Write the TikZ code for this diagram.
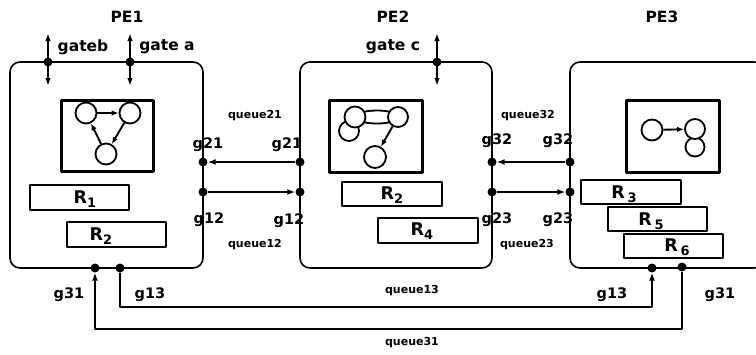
\documentclass[tikz,border=0pt]{standalone}
\usepackage{fontspec}
\setmainfont{DejaVu Sans}
\usetikzlibrary{arrows.meta}
\begin{document}
\begin{tikzpicture}[x=1pt,y=-1pt,line join=round,
  pebox/.style={draw,rounded corners=10pt,line width=1.6pt,inner sep=0pt,outer sep=0pt,anchor=north west},
  sbox/.style={draw,line width=3pt,inner sep=0pt,outer sep=0pt,anchor=north west},
  rbox/.style={draw,line width=2.5pt,inner sep=0pt,outer sep=0pt,anchor=north west,fill=white},
  dot/.style={circle,fill=black,inner sep=0pt,minimum size=9pt},
  st/.style={circle,draw,line width=1.8pt,fill=white,inner sep=0pt,minimum size=21pt},
  conn/.style={line width=2pt,-{Latex[length=8pt,width=6pt]}},
  gatearr/.style={line width=2pt,{Latex[length=8pt,width=5.5pt]}-{Latex[length=8pt,width=5.5pt]}},
  sarr/.style={line width=1.9pt,-{Latex[length=7pt,width=5.5pt]}},
  title/.style={font=\fontsize{15.5}{17}\selectfont\bfseries,inner sep=0pt},
  gatelbl/.style={font=\fontsize{15.5}{17}\selectfont\bfseries,inner sep=0pt},
  glbl/.style={font=\fontsize{14.5}{16}\selectfont\bfseries,inner sep=0pt,anchor=base},
  qlbl/.style={font=\fontsize{11}{13}\selectfont\bfseries,inner sep=0pt},
  rlbl/.style={font=\fontsize{17.5}{19}\selectfont\bfseries,inner sep=0pt,anchor=base}
]
\useasboundingbox (0,0) rectangle (756,354);
\newcommand{\rsub}[1]{\raisebox{-4.5pt}{\fontsize{13}{13}\selectfont #1}}

% PE boxes
\node[pebox,minimum width=193pt,minimum height=206pt] (pe1) at (10,62) {};
\node[pebox,minimum width=192pt,minimum height=206pt] (pe2) at (300,62) {};
\node[pebox,minimum width=194pt,minimum height=206pt] (pe3) at (570,62) {};

% titles
\node[title] (t1) at (127,17) {PE1};
\node[title] (t2) at (393,17) {PE2};
\node[title] (t3) at (662,17) {PE3};

% gates
\coordinate (gbT) at (48,33); \coordinate (gbB) at (48,86);
\coordinate (gaT) at (130,33); \coordinate (gaB) at (130,86);
\coordinate (gcT) at (437,33); \coordinate (gcB) at (437,86);
\draw[gatearr] (gbT) -- (gbB);
\draw[gatearr] (gaT) -- (gaB);
\draw[gatearr] (gcT) -- (gcB);
\node[dot] (gb) at (48,62) {};
\node[dot] (ga) at (130,62) {};
\node[dot] (gc) at (437,62) {};
\node[gatelbl] (lgb) at (83,47) {gateb};
\node[gatelbl] (lga) at (167,47) {gate a};
\node[gatelbl] (lgc) at (393,47) {gate c};

% inner state boxes
\node[sbox,minimum width=92pt,minimum height=71pt] (sb1) at (61,100) {};
\node[sbox,minimum width=93pt,minimum height=72pt] (sb2) at (329,100) {};
\node[sbox,minimum width=93pt,minimum height=72pt] (sb3) at (626,100) {};

% PE1 states
\node[st] (s11) at (86,113) {};
\node[st] (s12) at (130,113) {};
\node[st] (s13) at (106,154) {};
\draw[sarr] (s11) -- (s12);
\draw[sarr] (s12) -- (s13);
\draw[sarr] (s13) -- (s11);

% PE2 states
\node[st,minimum size=20pt] (s24) at (349,131) {};
\draw[line width=1.8pt] (377,117) ellipse [x radius=22pt, y radius=6.5pt];
\node[st] (s21) at (355,117) {};
\node[st,minimum size=20pt] (s22) at (398,117) {};
\node[st,minimum size=22pt] (s23) at (375,157) {};
\draw[sarr] (s22) -- (s23);

% PE3 states
\node[st,minimum size=19pt] (s33) at (695,147) {};
\node[st,minimum size=21pt] (s31) at (652,130) {};
\node[st,minimum size=20pt] (s32) at (695,129) {};
\draw[sarr] (s31) -- (s32);

% resource boxes
\node[rbox,minimum width=99pt,minimum height=25pt] (r1) at (30,185) {};
\node[rbox,minimum width=99pt,minimum height=25pt] (r2) at (67,222) {};
\node[rlbl] (lr1) at (85,203) {R\rsub{1}};
\node[rlbl] (lr2) at (101,240) {R\rsub{2}};

\node[rbox,minimum width=100pt,minimum height=24pt] (r2b) at (342,182) {};
\node[rbox,minimum width=100pt,minimum height=25pt] (r4) at (378,218) {};
\node[rlbl] (lr2b) at (392,199) {R\rsub{2}};
\node[rlbl] (lr4) at (422,235) {R\rsub{4}};

\node[rbox,minimum width=100pt,minimum height=24pt] (r3) at (581,180) {};
\node[rbox,minimum width=99pt,minimum height=24pt] (r5) at (608,207) {};
\node[rbox,minimum width=99pt,minimum height=24pt] (r6) at (624,234) {};
\node[rlbl] (lr3) at (624,198) {R\,\rsub{3}};
\node[rlbl] (lr5) at (651,225) {R\,\rsub{5}};
\node[rlbl] (lr6) at (677,251) {R\,\rsub{6}};

% side gates
\node[dot] (g21a) at (203,162) {};
\node[dot] (g21b) at (300,162) {};
\node[dot] (g12a) at (203,192) {};
\node[dot] (g12b) at (300,192) {};
\node[dot] (g32a) at (492,162) {};
\node[dot] (g32b) at (570,162) {};
\node[dot] (g23a) at (492,192) {};
\node[dot] (g23b) at (570,192) {};
\draw[conn] (g21b) -- (g21a);
\draw[conn] (g12a) -- (g12b);
\draw[conn] (g32b) -- (g32a);
\draw[conn] (g23a) -- (g23b);

\node[glbl] (lg21a) at (208,148) {g21};
\node[glbl] (lg21b) at (287,148) {g21};
\node[glbl] (lg12a) at (209,223) {g12};
\node[glbl] (lg12b) at (289,224) {g12};
\node[glbl] (lg32a) at (497,144) {g32};
\node[glbl] (lg32b) at (558,144) {g32};
\node[glbl] (lg23a) at (497,223) {g23};
\node[glbl] (lg23b) at (558,223) {g23};
\node[qlbl] (q21) at (255,116) {queue21};
\node[qlbl] (q12) at (255,245) {queue12};
\node[qlbl] (q32) at (528,116) {queue32};
\node[qlbl] (q23) at (527,245) {queue23};

% bottom gates
\node[dot] (g31a) at (95,268) {};
\node[dot] (g13a) at (120,268) {};
\node[dot] (g13b) at (652,268) {};
\node[dot] (g31b) at (682,267) {};
\coordinate (c13) at (400,307);
\coordinate (c31) at (400,329);
\draw[conn] (g13a) |- (c13) -| (g13b);
\draw[conn] (g31b) |- (c31) -| (g31a);

\node[glbl] (lg31a) at (69,298) {g31};
\node[glbl] (lg13a) at (150,298) {g13};
\node[glbl] (lg13b) at (612,298) {g13};
\node[glbl] (lg31b) at (720,298) {g31};
\node[qlbl] (q13) at (412,291) {queue13};
\node[qlbl] (q31) at (412,343) {queue31};
\end{tikzpicture}
\end{document}
